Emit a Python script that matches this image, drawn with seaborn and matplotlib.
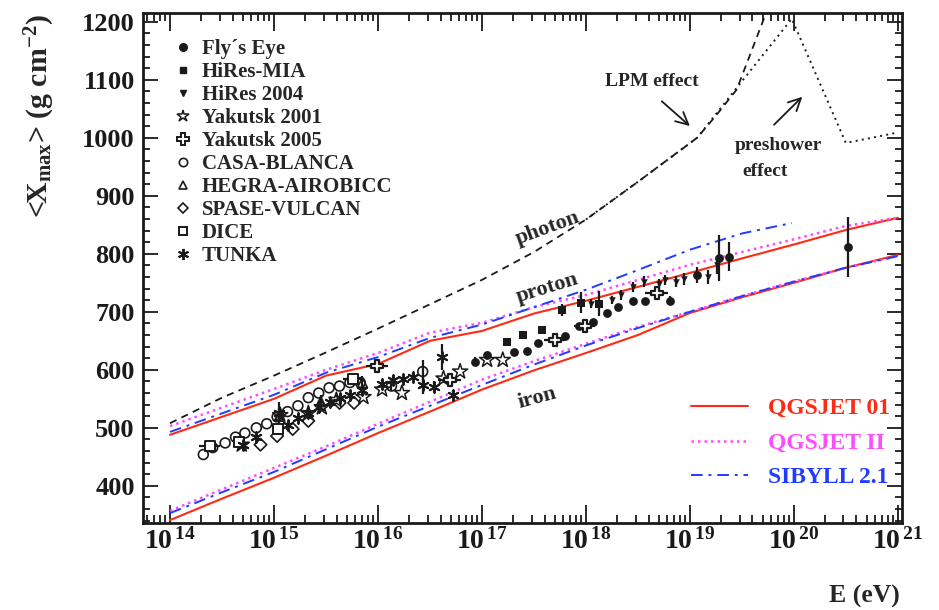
import numpy as np
import matplotlib
matplotlib.use('Agg')
import matplotlib.pyplot as plt
import seaborn as sns
from matplotlib.lines import Line2D
from matplotlib.ticker import LogLocator, MultipleLocator, NullFormatter

# ---------------- data (log10 E [eV], <Xmax> [g/cm2]) ----------------
lg_curve = [14.0, 14.5, 15.0, 15.5, 16.0, 16.5, 17.0, 17.5, 18.0, 18.5, 19.0, 19.5, 20.0, 20.5, 21.0]
qgs01_p = [488, 519, 550, 590, 610, 650, 667, 697, 719, 743, 767, 792, 816, 841, 862]
qgs2_p = [503, 535, 567, 600, 629, 664, 681, 708, 729, 755, 781, 803, 825, 848, 862]
sib_p_lg = [14.0, 14.5, 15.0, 15.5, 16.0, 16.5, 17.0, 17.5, 18.0, 18.5, 19.0, 19.5, 19.98]
sib_p = [493, 525, 557, 595, 622, 655, 678, 708, 738, 772, 807, 835, 853]
qgs01_fe = [341, 378, 414, 452, 491, 528, 566, 599, 629, 660, 698, 725, 750, 776, 798]
qgs2_fe = [357, 394, 431, 468, 507, 545, 583, 615, 645, 674, 700, 727, 752, 776, 796]
sib_fe = [353, 389, 424, 463, 502, 538, 574, 609, 642, 672, 700, 727, 752, 776, 796]

photon_lg = [14.0, 14.5, 15.0, 15.5, 16.0, 16.5, 17.0, 17.5, 18.0, 18.5, 19.07, 19.25, 19.45, 19.72, 19.8]
photon_X = [508, 552, 590, 630, 671, 713, 755, 803, 859, 924, 1000, 1038, 1083, 1209, 1240]
presh_lg = [18.0, 18.5, 19.07, 19.45, 19.98, 20.5, 21.0]
presh_X = [859, 924, 1000, 1086, 1205, 991, 1009]

fly_lg = [16.93, 17.05, 17.31, 17.43, 17.54, 17.80, 17.93, 18.07, 18.20, 18.31, 18.45, 18.57, 18.81, 19.07, 19.28, 19.38, 20.52]
fly_X = [614, 626, 631, 633, 647, 659, 676, 683, 698, 709, 719, 719, 719, 764, 793, 795, 812]
fly_err = [8, 0, 0, 0, 0, 0, 0, 0, 0, 0, 0, 0, 8, 14, 40, 25, 52]

mia_lg = [17.24, 17.39, 17.58, 17.77, 17.95, 18.13]
mia_X = [648, 660, 669, 703, 716, 714]
mia_err = [5, 5, 6, 10, 18, 22]

hr04_lg = [18.05, 18.25, 18.34, 18.45, 18.56, 18.70, 18.76, 18.87, 18.94, 19.17, 19.26]
hr04_X = [714, 721, 729, 743, 752, 748, 755, 752, 757, 760, 781]
hr04_err = [8, 7, 8, 9, 9, 9, 9, 10, 10, 12, 15]

yak01_lg = [14.69, 15.06, 15.33, 15.46, 15.60, 15.86, 16.04, 16.23, 16.63, 16.79, 17.05, 17.20]
yak01_X = [471, 522, 525, 535, 548, 553, 566, 560, 585, 597, 617, 617]

yak05_lg = [15.99, 16.69, 17.70, 17.99, 18.68]
yak05_X = [607, 583, 652, 676, 733]
yak05_xerr = [0.11, 0.11, 0.10, 0.10, 0.11]

casa_lg = [14.32, 14.41, 14.53, 14.63, 14.72, 14.83, 14.93, 15.03, 15.13, 15.23, 15.33,
           15.43, 15.53, 15.63, 15.73, 15.83, 16.13, 16.43]
casa_X = [454, 466, 474, 484, 491, 500, 507, 519, 528, 538, 552, 560, 569, 572, 578, 578, 572, 597]
casa_err = [0, 0, 0, 0, 0, 0, 0, 0, 0, 0, 0, 0, 0, 0, 0, 0, 8, 20]

hegra_lg = [15.05, 15.45, 15.85]
hegra_X = [520, 545, 578]
hegra_err = [15, 12, 12]

spase_lg = [14.87, 15.03, 15.18, 15.33, 15.63, 15.77]
spase_X = [471, 486, 498, 512, 543, 543]

dice_lg = [14.38, 14.66, 15.04, 15.76]
dice_X = [468, 476, 498, 585]
dice_xerr = [0.1, 0.0, 0.0, 0.1]

tunka_lg = [14.70, 14.83, 15.05, 15.13, 15.23, 15.33, 15.43, 15.54, 15.63, 15.73, 15.85, 16.04,
            16.14, 16.24, 16.34, 16.43, 16.54, 16.62, 16.72]
tunka_X = [471, 484, 526, 505, 517, 526, 536, 545, 552, 557, 566, 576, 583, 584, 588, 574, 571, 622, 557]
tunka_err = [0, 5, 19, 5, 5, 5, 5, 5, 5, 5, 5, 6, 6, 6, 6, 15, 10, 22, 0]

legend_labels = ["Fly\u00b4s Eye", "HiRes-MIA", "HiRes 2004", "Yakutsk 2001", "Yakutsk 2005",
                 "CASA-BLANCA", "HEGRA-AIROBICC", "SPASE-VULCAN", "DICE", "TUNKA"]
model_labels = ["QGSJET 01", "QGSJET II", "SIBYLL 2.1"]

# ---------------- style ----------------
sns.set_theme(style='ticks')
plt.rcParams['font.family'] = ['Liberation Serif', 'DejaVu Serif']
plt.rcParams['font.weight'] = 'bold'
plt.rcParams['mathtext.fontset'] = 'custom'
plt.rcParams['mathtext.rm'] = 'Liberation Serif:bold'
plt.rcParams['mathtext.bf'] = 'Liberation Serif:bold'
plt.rcParams['mathtext.it'] = 'Liberation Serif:bold:italic'
plt.rcParams['axes.linewidth'] = 2.0

RED = '#ff2a14'
MAG = '#ff4cff'
BLUE = '#1f3cff'

fig = plt.figure(figsize=(9.39, 6.10), dpi=100)
ax = fig.add_axes([143/939, 1-523/610, 759/939, 510/610])

E = lambda lg: 10.0 ** np.asarray(lg, dtype=float)

# ---------------- model curves ----------------
dot = (0, (1, 1.6))
dashdot = (0, (6, 3, 1.5, 3))
sns.lineplot(x=E(lg_curve), y=qgs01_p, ax=ax, color=RED, lw=1.5, sort=False, estimator=None)
sns.lineplot(x=E(lg_curve), y=qgs01_fe, ax=ax, color=RED, lw=1.5, sort=False, estimator=None)
sns.lineplot(x=E(lg_curve), y=qgs2_p, ax=ax, color=MAG, lw=1.8, ls=dot, sort=False, estimator=None)
sns.lineplot(x=E(lg_curve), y=qgs2_fe, ax=ax, color=MAG, lw=1.8, ls=dot, sort=False, estimator=None)
sns.lineplot(x=E(sib_p_lg), y=sib_p, ax=ax, color=BLUE, lw=1.4, ls=dashdot, sort=False, estimator=None)
sns.lineplot(x=E(lg_curve), y=sib_fe, ax=ax, color=BLUE, lw=1.4, ls=dashdot, sort=False, estimator=None)
sns.lineplot(x=E(photon_lg), y=photon_X, ax=ax, color='k', lw=1.3, ls=(0, (4, 3)), sort=False, estimator=None)
sns.lineplot(x=E(presh_lg), y=presh_X, ax=ax, color='k', lw=1.4, ls=(0, (1, 2.2)), sort=False, estimator=None)

# ---------------- data points ----------------
def errs(lg, X, yerr=None, xerr=None):
    x = E(lg)
    xe = None
    if xerr is not None:
        xr = np.asarray(xerr)
        xe = [x * (1 - 10 ** (-xr)), x * (10 ** xr - 1)]
    ax.errorbar(x, X, yerr=yerr, xerr=xe, fmt='none', ecolor='k', elinewidth=1.6, capsize=0, zorder=4)

errs(fly_lg, fly_X, yerr=fly_err)
errs(mia_lg, mia_X, yerr=mia_err)
errs(hr04_lg, hr04_X, yerr=hr04_err)
errs(yak05_lg, yak05_X, xerr=yak05_xerr)
errs(casa_lg, casa_X, yerr=casa_err)
errs(hegra_lg, hegra_X, yerr=hegra_err)
errs(dice_lg, dice_X, xerr=dice_xerr)
errs(tunka_lg, tunka_X, yerr=tunka_err)

kw = dict(ax=ax, color='k', legend=False, zorder=5)
sns.scatterplot(x=E(fly_lg), y=fly_X, marker='o', s=40, edgecolor='k', linewidth=0, **kw)
sns.scatterplot(x=E(mia_lg), y=mia_X, marker='s', s=36, edgecolor='k', linewidth=0, **kw)
sns.scatterplot(x=E(hr04_lg), y=hr04_X, marker='v', s=22, edgecolor='k', linewidth=0, **kw)
sns.scatterplot(x=E(yak01_lg), y=yak01_X, marker='*', s=130, facecolor='none', edgecolor='k', linewidth=1.1, **kw)
sns.scatterplot(x=E(yak05_lg), y=yak05_X, marker='P', s=85, facecolor='white', edgecolor='k', linewidth=1.6, **kw)
sns.scatterplot(x=E(casa_lg), y=casa_X, marker='o', s=50, facecolor='none', edgecolor='k', linewidth=1.2, **kw)
sns.scatterplot(x=E(hegra_lg), y=hegra_X, marker='^', s=50, facecolor='none', edgecolor='k', linewidth=1.2, **kw)
sns.scatterplot(x=E(spase_lg), y=spase_X, marker='D', s=40, facecolor='none', edgecolor='k', linewidth=1.2, **kw)
sns.scatterplot(x=E(dice_lg), y=dice_X, marker='s', s=50, facecolor='white', edgecolor='k', linewidth=1.4, **kw)
sns.scatterplot(x=E(tunka_lg), y=tunka_X, marker=(6, 2, 0), s=60, linewidth=1.4, **kw)

# ---------------- axes ----------------
ax.set_xscale('log')
ax.set_xlim(10 ** 13.74, 10 ** 21.04)
ax.set_ylim(336, 1215)
decades = list(range(14, 22))
ax.set_xticks([10.0 ** k for k in decades], labels=[r'$10^{\,%d}$' % k for k in decades])
ax.xaxis.set_minor_locator(LogLocator(base=10, subs=np.arange(2, 10)))
ax.xaxis.set_minor_formatter(NullFormatter())
ax.yaxis.set_major_locator(MultipleLocator(100))
ax.yaxis.set_minor_locator(MultipleLocator(20))
ax.tick_params(which='both', direction='in', top=True, right=True, width=1.3, colors='k')
ax.tick_params(axis='x', which='major', length=13, labelsize=20, pad=4)
ax.tick_params(axis='x', which='minor', length=6)
ax.tick_params(axis='y', which='major', length=11, labelsize=19, pad=6)
ax.tick_params(axis='y', which='minor', length=5)
for lab in ax.get_xticklabels() + ax.get_yticklabels():
    lab.set_fontweight('bold')
for s in ax.spines.values():
    s.set_color('k')
ax.set_xlabel('')
ax.set_ylabel('')

fig.text(0.043, 0.977, '<X$_{\\mathrm{max}}$> (g cm$^{-2}$)', rotation=90, ha='center', va='top',
         fontsize=21.5, fontweight='bold')
fig.text(0.958, 0.003, 'E (eV)', ha='right', va='bottom', fontsize=18.5, fontweight='bold')

# ---------------- in-plot labels ----------------
ax.text(E(17.63), 845, 'photon', rotation=20, ha='center', va='center', fontsize=16, fontweight='bold')
ax.text(E(17.63), 741, 'proton', rotation=17, ha='center', va='center', fontsize=16, fontweight='bold')
ax.text(E(17.53), 552, 'iron', rotation=15, ha='center', va='center', fontsize=16, fontweight='bold')
ax.text(E(18.63), 1097, 'LPM effect', ha='center', va='center', fontsize=14, fontweight='bold')
ax.text(E(19.85), 986, 'preshower', ha='center', va='center', fontsize=14, fontweight='bold')
ax.text(E(19.72), 941, 'effect', ha='center', va='center', fontsize=14, fontweight='bold')
ax.annotate('', xy=(E(19.02), 1017), xytext=(E(18.71), 1066),
            arrowprops=dict(arrowstyle='->', lw=1.3, color='k', mutation_scale=22))
ax.annotate('', xy=(E(20.10), 1074), xytext=(E(19.79), 1019),
            arrowprops=dict(arrowstyle='->', lw=1.3, color='k', mutation_scale=22))

# ---------------- legends ----------------
handles = [
    Line2D([], [], ls='', marker='o', ms=5.5, color='k'),
    Line2D([], [], ls='', marker='s', ms=5, color='k'),
    Line2D([], [], ls='', marker='v', ms=4, color='k'),
    Line2D([], [], ls='', marker='*', ms=9, mfc='none', mec='k', mew=1.1),
    Line2D([], [], ls='', marker='P', ms=9, mfc='white', mec='k', mew=1.4),
    Line2D([], [], ls='', marker='o', ms=6, mfc='none', mec='k', mew=1.2),
    Line2D([], [], ls='', marker='^', ms=6, mfc='none', mec='k', mew=1.2),
    Line2D([], [], ls='', marker='D', ms=5, mfc='none', mec='k', mew=1.2),
    Line2D([], [], ls='', marker='s', ms=6, mfc='none', mec='k', mew=1.4),
    Line2D([], [], ls='', marker=(6, 2, 0), ms=8, color='k', mew=1.4),
]
leg1 = ax.legend(handles, legend_labels, loc='upper left', bbox_to_anchor=(0.042, 0.949),
                 frameon=False, fontsize=15, handlelength=0.8, handletextpad=0.5,
                 labelspacing=0.145, borderpad=0, borderaxespad=0)
ax.add_artist(leg1)

mhandles = [Line2D([], [], color=RED, lw=1.5),
            Line2D([], [], color=MAG, lw=1.8, ls=dot),
            Line2D([], [], color=BLUE, lw=1.4, ls=dashdot)]
leg2 = ax.legend(mhandles, model_labels, loc='lower right', bbox_to_anchor=(0.984, 0.068),
                 frameon=False, fontsize=17, handlelength=2.4, handletextpad=0.85,
                 labelspacing=0.55, borderpad=0, borderaxespad=0, labelcolor='linecolor')

fig.savefig('out.png', dpi=100)
